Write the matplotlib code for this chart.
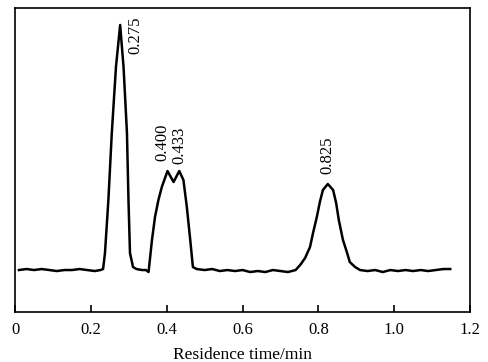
import matplotlib.pyplot as plt

plt.rcParams['font.family'] = ['Liberation Serif', 'DejaVu Serif']

# residence time (min) and detector signal (arbitrary units)
t = [0.01, 0.03, 0.05, 0.07, 0.09, 0.11, 0.13, 0.15, 0.17, 0.19, 0.21, 0.225,
     0.232, 0.237, 0.246, 0.255, 0.266, 0.277, 0.286, 0.295, 0.299, 0.303, 0.311,
     0.32, 0.335, 0.345,
     0.352, 0.361, 0.369, 0.378, 0.387, 0.402, 0.418, 0.433, 0.444, 0.453, 0.462,
     0.469, 0.479,
     0.50, 0.52, 0.54, 0.56, 0.58, 0.60, 0.62, 0.64, 0.66, 0.68, 0.70, 0.72, 0.74,
     0.752, 0.765, 0.778, 0.786, 0.796, 0.804, 0.812, 0.825, 0.839, 0.847, 0.854,
     0.865, 0.876, 0.883, 0.897,
     0.91, 0.93, 0.95, 0.97, 0.99, 1.01, 1.03, 1.05, 1.07, 1.09, 1.11, 1.13, 1.148]
signal = [42, 43, 42, 43, 42, 41, 42, 42, 43, 42, 41, 42,
          43, 59, 112, 179, 245, 287, 245, 179, 112, 59, 45,
          43, 42, 42,
          40, 72, 95, 112, 125, 141, 130, 141, 132, 105, 72,
          45, 43,
          42, 43, 41, 42, 41, 42, 40, 41, 40, 42, 41, 40, 42,
          47, 54, 65, 79, 95, 110, 122, 128, 122, 109, 92,
          72, 59, 50, 45,
          42, 41, 42, 40, 42, 41, 42, 41, 42, 41, 42, 43, 43]

peak_labels = ['0.275', '0.400', '0.433', '0.825']
label_pos = [(0.317, 258), (0.389, 151), (0.434, 148), (0.8245, 138)]

fig = plt.figure(figsize=(4.89, 3.62), dpi=100)
ax = fig.add_axes([0.031, 0.138, 0.930, 0.840])
ax.plot(t, signal, color='black', lw=1.8)

for lab, (x, y) in zip(peak_labels, label_pos):
    ax.text(x, y, lab, rotation=90, ha='center', va='bottom', fontsize=12)

ax.set_xlim(0, 1.2)
ax.set_ylim(0, 304)
ax.set_xticks([0, 0.2, 0.4, 0.6, 0.8, 1.0, 1.2])
ax.set_xticklabels(['0', '0.2', '0.4', '0.6', '0.8', '1.0', '1.2'])
ax.set_yticks([])
ax.tick_params(axis='x', direction='in', length=5, width=1.2, labelsize=12, pad=7)
for s in ax.spines.values():
    s.set_linewidth(1.2)
ax.set_xlabel('Residence time/min', fontsize=12.5, labelpad=7)

fig.savefig('out.png', dpi=100)
